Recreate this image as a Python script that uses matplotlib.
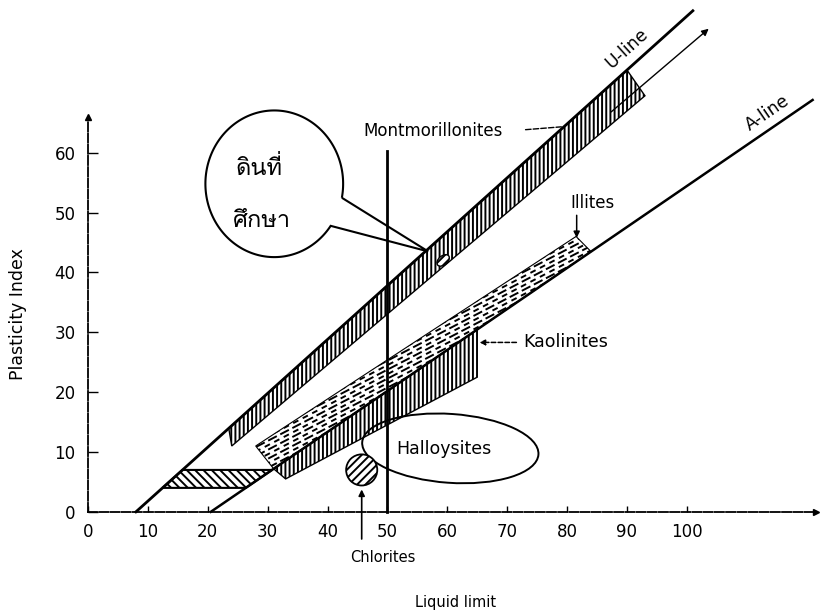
import numpy as np
import matplotlib
matplotlib.use('Agg')
import matplotlib.pyplot as plt
from matplotlib.patches import Polygon, Ellipse, Circle, PathPatch
from matplotlib.path import Path
from matplotlib import font_manager
from fontTools.ttLib import TTFont


def font_with(ch, fallback='DejaVu Sans'):
    # first installed family whose cmap has the character
    for f in font_manager.fontManager.ttflist:
        try:
            tt = TTFont(f.fname, fontNumber=0, lazy=True)
            if ord(ch) in tt.getBestCmap():
                return f.name
        except Exception:
            continue
    return fallback


# chart lines (liquid limit, plasticity index)
u_line_ll = [8, 101]
u_line_pi = [0, 83.7]
a_line_ll = [20.5, 121]
a_line_pi = [0, 68.8]
ll50_pi = [0, 60.3]

# montmorillonites: below the U-line
mont_upper_ll = [23.5, 90]
mont_lower_ll = [24, 93]
mont_lower_pi = [11, 69.5]
mont_arrow_ll = [87, 104]
mont_arrow_pi = [66.5, 81]

# illites: above the A-line
ill_upper_ll = [28, 81.5]
ill_upper_pi = [11, 46]
ill_lower_ll = [31, 84]

# kaolinites: below the A-line
kao_upper_ll = [31, 65]
kao_lower_ll = [33, 65]
kao_lower_pi = [5.5, 22.5]

# CL-ML strip
strip_pi = [4, 7]

# halloysites, chlorites, studied soil
hal_center = (60.5, 10.6)
hal_size = (29.5, 11.5)
chl_center = (45.7, 7.0)
chl_radius = 2.6
soil_center = (59.3, 42.0)

x_ticks = [0, 10, 20, 30, 40, 50, 60, 70, 80, 90, 100]
y_ticks = [0, 10, 20, 30, 40, 50, 60]


def line_at(ll, xs, ys):
    return ys[0] + (np.asarray(ll) - xs[0]) * (ys[1] - ys[0]) / (xs[1] - xs[0])


def u_line(ll):
    return line_at(ll, u_line_ll, u_line_pi)


def a_line(ll):
    return line_at(ll, a_line_ll, a_line_pi)


def u_inv(pi):
    return line_at(pi, u_line_pi, u_line_ll)


def a_inv(pi):
    return line_at(pi, a_line_pi, a_line_ll)


thai_font = font_with('\u0e14')
plt.rcParams['font.family'] = ['DejaVu Sans']
plt.rcParams['hatch.linewidth'] = 1.4

fig = plt.figure(figsize=(8.21, 6.13), dpi=100)
ax = fig.add_axes([0, 0, 1, 1])
ax.set_xlim(-14.7, 122.4)
ax.set_ylim(-16.9, 85.5)

# axes as spines through the origin
for side in ('top', 'right'):
    ax.spines[side].set_visible(False)
ax.spines['left'].set_position(('data', 0))
ax.spines['bottom'].set_position(('data', 0))
ax.spines['left'].set_bounds(0, 66)
ax.spines['bottom'].set_bounds(0, 121.5)
for side in ('left', 'bottom'):
    ax.spines[side].set_linestyle((0, (5, 1.2)))
    ax.spines[side].set_linewidth(1.3)
ax.plot(0, 66, marker='^', color='k', ms=5, clip_on=False)
ax.plot(121.5, 0, marker='>', color='k', ms=5, clip_on=False)

ax.set_xticks(x_ticks)
ax.set_yticks(y_ticks)
ax.tick_params(axis='x', direction='in', length=4, width=1, pad=8, labelsize=12)
ax.tick_params(axis='y', direction='in', length=7, width=1, pad=9, labelsize=12)

# U-line, A-line, LL = 50
ax.plot(u_line_ll, u_line_pi, color='k', lw=2.0)
ax.plot(a_line_ll, a_line_pi, color='k', lw=1.8)
ax.plot([50, 50], ll50_pi, color='k', lw=2.0)

# montmorillonites band
top = np.array(mont_upper_ll)
mont = np.array([
    [top[0], u_line(top[0])],
    [top[1], u_line(top[1])],
    [mont_lower_ll[1], mont_lower_pi[1]],
    [mont_lower_ll[0], mont_lower_pi[0]],
])
ax.add_patch(Polygon(mont, closed=True, facecolor='none', edgecolor='k',
                     hatch='||||', lw=1.0))
ax.annotate('', xy=(mont_arrow_ll[1], mont_arrow_pi[1]),
            xytext=(mont_arrow_ll[0], mont_arrow_pi[0]),
            arrowprops=dict(arrowstyle='-|>', color='k', lw=1.0, mutation_scale=10))

# CL-ML strip between the two lines
strip = np.array([
    [u_inv(strip_pi[0]), strip_pi[0]],
    [u_inv(strip_pi[1]), strip_pi[1]],
    [a_inv(strip_pi[1]), strip_pi[1]],
    [a_inv(strip_pi[0]), strip_pi[0]],
])
ax.add_patch(Polygon(strip, closed=True, facecolor='none', edgecolor='k',
                     hatch='\\\\\\\\', lw=1.5))

# kaolinites band
kao = np.array([
    [kao_upper_ll[0], a_line(kao_upper_ll[0])],
    [kao_upper_ll[1], a_line(kao_upper_ll[1])],
    [kao_lower_ll[1], kao_lower_pi[1]],
    [kao_lower_ll[0], kao_lower_pi[0]],
])
ax.add_patch(Polygon(kao, closed=True, facecolor='none', edgecolor='k',
                     hatch='||||', lw=1.0))

# illites band, filled with slanted dashes
ill = np.array([
    [ill_upper_ll[0], ill_upper_pi[0]],
    [ill_upper_ll[1], ill_upper_pi[1]],
    [ill_lower_ll[1], a_line(ill_lower_ll[1])],
    [ill_lower_ll[0], a_line(ill_lower_ll[0])],
])
ill_patch = Polygon(ill, closed=True, facecolor='none', edgecolor='k', lw=0.8)
ax.add_patch(ill_patch)
xs = np.array([20, 95])
for i, c in enumerate(np.arange(-30, 10, 0.75)):
    ln, = ax.plot(xs, 0.52 * xs + c, color='k', lw=1.4,
                  dashes=(5, 2) if i % 2 else (3, 2.5))
    ln.set_clip_path(ill_patch)

# halloysites
ax.add_patch(Ellipse(hal_center, hal_size[0], hal_size[1], angle=-4,
                     facecolor='none', edgecolor='k', lw=1.4))
ax.text(59.4, 10.5, 'Halloysites', ha='center', va='center', fontsize=12.5)

# chlorites
ax.add_patch(Circle(chl_center, chl_radius, facecolor='white', edgecolor='k',
                    hatch='////', lw=1.3))
ax.annotate('', xy=(chl_center[0], chl_center[1] - chl_radius - 0.2),
            xytext=(chl_center[0], -5),
            arrowprops=dict(arrowstyle='-|>', color='k', lw=1.2, mutation_scale=9),
            annotation_clip=False)
ax.text(49.3, -7.6, 'Chlorites', ha='center', va='center', fontsize=10.5)

# studied soil marker and speech bubble
ax.add_patch(Ellipse(soil_center, 2.4, 1.5, angle=40, facecolor='white',
                     edgecolor='k', hatch='////', lw=1.0))
cx, cy, bw, bh = 31.1, 54.8, 23.0, 24.5
t = np.radians(np.linspace(-11, 325, 200))
arc = np.column_stack([cx + bw / 2 * np.cos(t), cy + bh / 2 * np.sin(t)])
bubble = np.vstack([arc, [[56.8, 43.5]], arc[:1]])
ax.add_patch(PathPatch(Path(bubble), facecolor='white', edgecolor='k', lw=1.5))
ax.text(28.6, 57.4, 'ดินที่', ha='center', va='center', fontsize=17,
        family=[thai_font, 'DejaVu Sans'])
ax.text(29.0, 48.6, 'ศึกษา', ha='center', va='center', fontsize=17,
        family=[thai_font, 'DejaVu Sans'])

# labels and pointers
ax.text(57.6, 63.7, 'Montmorillonites', ha='center', va='center', fontsize=12)
ax.annotate('', xy=(79.5, u_line(79.5)), xytext=(72.6, 63.8),
            arrowprops=dict(arrowstyle='-', color='k', lw=1.0, ls=(0, (4, 1.5))))
ax.text(84.3, 51.6, 'Illites', ha='center', va='center', fontsize=12)
ax.annotate('', xy=(81.6, 45.3), xytext=(81.6, 50.0),
            arrowprops=dict(arrowstyle='-|>', color='k', lw=1.1, mutation_scale=9))
ax.text(72.6, 28.3, 'Kaolinites', ha='left', va='center', fontsize=12.5)
ax.annotate('', xy=(64.9, 28.3), xytext=(72.0, 28.3),
            arrowprops=dict(arrowstyle='-|>', color='k', lw=1.1, ls=(0, (3, 1.5)),
                            mutation_scale=8))
ax.text(90.0, 77.5, 'U-line', ha='center', va='center', fontsize=12.5, rotation=42)
ax.text(113.4, 66.6, 'A-line', ha='center', va='center', fontsize=12.5, rotation=34.4)
ax.text(-11.7, 33, 'Plasticity Index', ha='center', va='center', fontsize=12.5,
        rotation=90)
ax.text(61.3, -15.2, 'Liquid limit', ha='center', va='center', fontsize=10.5)

fig.savefig('out.png', dpi=100)
